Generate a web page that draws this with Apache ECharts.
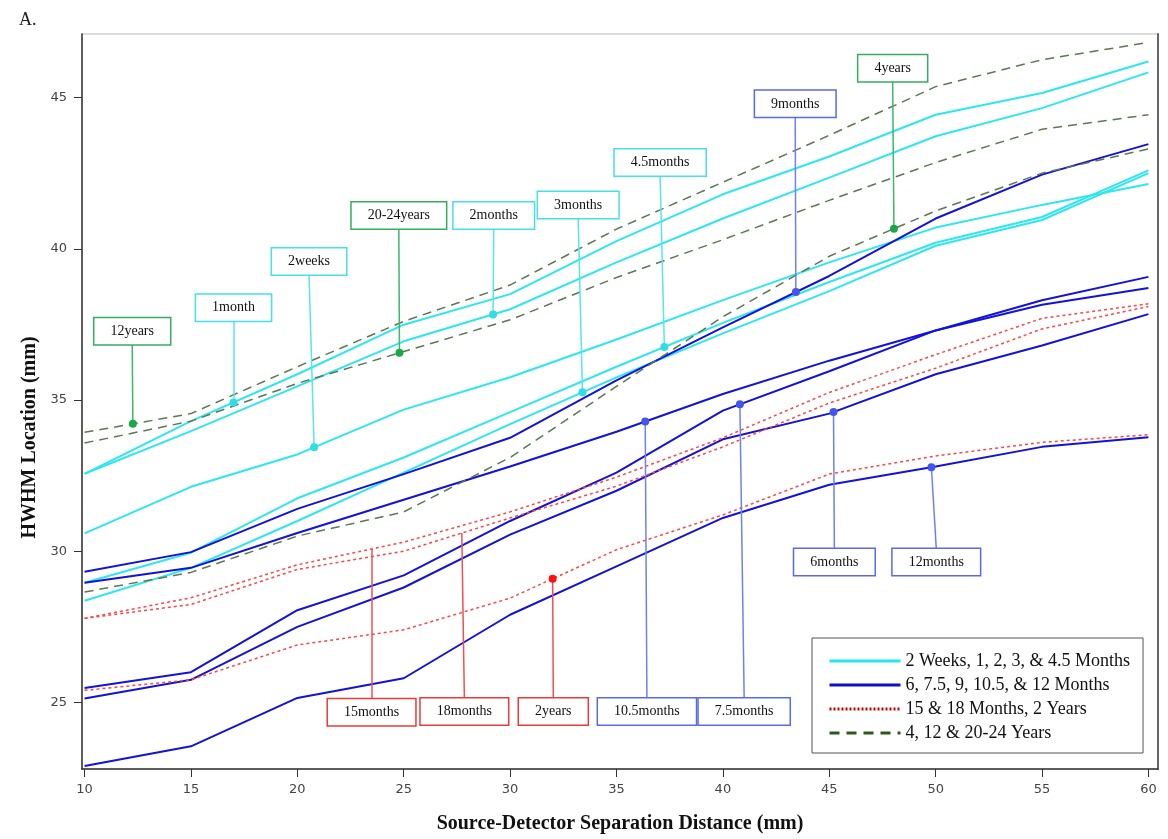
<!DOCTYPE html>
<html>
<head>
<meta charset="utf-8">
<style>
  html, body { margin: 0; padding: 0; background: #fff; }
  #chart { width: 1168px; height: 839px; }
</style>
<script src="https://cdn.jsdelivr.net/npm/echarts@6.0.0/dist/echarts.min.js"></script>
</head>
<body>
<div id="chart"></div>
<script>
// source-detector distances (mm)
const distances = [10, 15, 20, 25, 30, 35, 40, 45, 50, 55, 60];
const xTicks = [10, 15, 20, 25, 30, 35, 40, 45, 50, 55, 60];
const yTicks = [25, 30, 35, 40, 45];

// 2 weeks .. 4.5 months (cyan)
const weeks2 = [30.59, 32.13, 33.2, 34.68, 35.75, 37.0, 38.3, 39.55, 40.7, 41.45, 42.14];
const month1 = [32.56, 34.3, 35.85, 37.49, 38.5, 40.25, 41.8, 43.05, 44.43, 45.15, 46.19];
const months2 = [32.56, 33.97, 35.45, 36.94, 38.0, 39.55, 41.0, 42.35, 43.72, 44.65, 45.83];
const months3 = [28.36, 29.45, 31.0, 32.6, 34.2, 35.75, 37.2, 38.6, 40.1, 40.95, 42.5];
const months4_5 = [28.96, 29.95, 31.75, 33.1, 34.6, 36.1, 37.55, 38.9, 40.2, 41.05, 42.59];

// 6 .. 12 months (blue)
const months6 = [25.13, 25.75, 27.5, 28.8, 30.55, 32.0, 33.7, 34.55, 35.85, 36.8, 37.84];
const months7_5 = [25.48, 26.0, 28.05, 29.2, 31.0, 32.6, 34.65, 35.95, 37.3, 38.3, 39.07];
const months9 = [29.32, 29.97, 31.4, 32.55, 33.75, 35.65, 37.4, 39.1, 41.0, 42.45, 43.46];
const months10_5 = [28.96, 29.45, 30.6, 31.7, 32.8, 33.95, 35.2, 36.3, 37.3, 38.15, 38.7];
const months12 = [22.9, 23.55, 25.15, 25.8, 27.9, 29.5, 31.1, 32.2, 32.8, 33.45, 33.77];

// 15 months .. 2 years (red)
const months15 = [27.78, 28.46, 29.55, 30.3, 31.3, 32.45, 33.75, 35.25, 36.5, 37.7, 38.18];
const months18 = [27.78, 28.24, 29.4, 30.0, 31.1, 32.15, 33.45, 34.9, 36.05, 37.35, 38.09];
const years2 = [25.4, 25.75, 26.9, 27.4, 28.45, 30.05, 31.2, 32.55, 33.15, 33.6, 33.85];

// 4 .. 20-24 years (green)
const years4 = [28.65, 29.3, 30.5, 31.3, 33.1, 35.45, 37.75, 39.75, 41.25, 42.5, 43.3];
const years12 = [33.93, 34.55, 36.1, 37.6, 38.8, 40.65, 42.2, 43.75, 45.36, 46.25, 46.82];
const years20_24 = [33.58, 34.3, 35.55, 36.6, 37.65, 39.05, 40.3, 41.6, 42.85, 43.95, 44.43];

const groupNames = [
  "2 Weeks, 1, 2, 3, & 4.5 Months",
  "6, 7.5, 9, 10.5, & 12 Months",
  "15 & 18 Months, 2 Years",
  "4, 12 & 20-24 Years",
];

const lines = {
  weeks2: [0, weeks2], month1: [0, month1], months2: [0, months2], months3: [0, months3], months4_5: [0, months4_5],
  months6: [1, months6], months7_5: [1, months7_5], months9: [1, months9], months10_5: [1, months10_5], months12: [1, months12],
  months15: [2, months15], months18: [2, months18], years2: [2, years2],
  years4: [3, years4], years12: [3, years12], years20_24: [3, years20_24],
};

// label: series, text, point x, box x, box y, show dot
const annotations = [
  ["years12", "12years", 12.27, 12.24, 37.27, true],
  ["month1", "1month", 17.0, 17.0, 38.05, true],
  ["weeks2", "2weeks", 20.79, 20.55, 39.58, true],
  ["years20_24", "20-24years", 24.8, 24.77, 41.1, true],
  ["months2", "2months", 29.2, 29.23, 41.1, true],
  ["months3", "3months", 33.4, 33.2, 41.45, true],
  ["months4_5", "4.5months", 37.25, 37.05, 42.85, true],
  ["months9", "9months", 43.43, 43.4, 44.79, true],
  ["years4", "4years", 48.04, 47.98, 45.97, true],
  ["months15", "15months", 23.49, 23.49, 24.68, false],
  ["months18", "18months", 27.73, 27.85, 24.7, false],
  ["years2", "2years", 32.0, 32.03, 24.7, true],
  ["months10_5", "10.5months", 36.35, 36.43, 24.7, true],
  ["months7_5", "7.5months", 40.8, 41.0, 24.7, true],
  ["months6", "6months", 45.2, 45.24, 29.64, true],
  ["months12", "12months", 49.8, 50.03, 29.64, true],
];

const styles = [
  { color: "#2ee6f0", width: 2, type: "solid", dot: "#2fdde6", leader: "#55e6ee", box: "#45e0e8" },
  { color: "#1212d8", width: 2, type: "solid", dot: "#4455ee", leader: "#7080f0", box: "#5a6ae4" },
  { color: "#ff4545", width: 1.5, type: [3, 3], dot: "#ff1010", leader: "#f05050", box: "#e83a3a" },
  { color: "#5b7852", width: 1.5, type: [9, 6], dot: "#1aa84a", leader: "#3cb86a", box: "#34ad62" },
];

const legendLines = [
  { color: "#22e6f0", width: 3, type: "solid" },
  { color: "#1010cc", width: 3, type: "solid" },
  { color: "#c00000", width: 3, type: [2, 2] },
  { color: "#2c5a1c", width: 3, type: [10, 7] },
];

const interp = (values, x) => {
  const i = Math.min(Math.floor((x - distances[0]) / 5), distances.length - 2);
  const t = (x - distances[i]) / (distances[i + 1] - distances[i]);
  return values[i] + t * (values[i + 1] - values[i]);
};

const series = Object.keys(lines).map((key) => {
  const [g, values] = lines[key];
  const st = styles[g];
  const notes = annotations.filter((a) => a[0] === key);
  const points = [];
  const leaders = [];
  notes.forEach(([, text, px, bx, by, dot]) => {
    const py = interp(values, px);
    const edge = by > py ? by - 0.45 : by + 0.45;
    leaders.push([{ coord: [px, py] }, { coord: [bx, edge] }]);
    if (dot) {
      points.push({
        coord: [px, py],
        symbol: "circle",
        symbolSize: 8,
        itemStyle: { color: st.dot },
        label: { show: false },
      });
    }
    points.push({
      coord: [bx, by],
      symbol: "rect",
      symbolSize: 1,
      itemStyle: { color: "rgba(0,0,0,0)" },
      label: {
        show: true,
        position: "inside",
        formatter: text,
        backgroundColor: "#fff",
        borderColor: st.box,
        borderWidth: 1.5,
        padding: [6, 16],
        fontFamily: "Liberation Serif",
        fontSize: 14,
        color: "#111",
      },
    });
  });
  return {
    name: groupNames[g],
    type: "line",
    data: distances.map((d, i) => [d, values[i]]),
    symbol: "none",
    lineStyle: { color: st.color, width: st.width, type: st.type },
    itemStyle: { color: st.color },
    z: 2,
    markLine: {
      silent: true,
      symbol: ["none", "none"],
      label: { show: false },
      lineStyle: { color: st.leader, width: 1.5, type: "solid" },
      data: leaders,
    },
    markPoint: {
      silent: true,
      data: points,
    },
  };
});

const chart = echarts.init(document.getElementById("chart"));
chart.setOption({
  animation: false,
  backgroundColor: "#fff",
  title: {
    text: "A.",
    left: 14,
    top: 6,
    textStyle: { fontFamily: "Liberation Serif", fontSize: 18, fontWeight: "normal", color: "#222" },
  },
  grid: {
    left: 82, right: 10, top: 34, bottom: 70,
    show: true, borderColor: "#cfcfcf", borderWidth: 1.5,
  },
  legend: {
    orient: "vertical",
    left: 812,
    top: 638,
    selectedMode: false,
    backgroundColor: "#fff",
    borderColor: "#555",
    borderWidth: 1,
    padding: [14, 13, 11, 16],
    itemWidth: 71,
    itemHeight: 14,
    itemGap: 6,
    textStyle: { fontFamily: "Liberation Serif", fontSize: 18, color: "#111" },
    data: groupNames.map((name, i) => ({
      name,
      lineStyle: legendLines[i],
      itemStyle: { color: "rgba(0,0,0,0)", opacity: 0, borderWidth: 0 },
    })),
  },
  xAxis: {
    type: "value",
    min: 9.88,
    max: 60.45,
    name: "Source-Detector Separation Distance (mm)",
    nameLocation: "middle",
    nameGap: 45,
    nameTextStyle: { fontFamily: "Liberation Serif", fontSize: 20, fontWeight: "bold", color: "#111" },
    axisLine: { show: true, lineStyle: { color: "#333", width: 1.5 } },
    axisTick: { show: true, length: 8, customValues: xTicks, lineStyle: { color: "#333" } },
    axisLabel: { customValues: xTicks, color: "#444", fontSize: 13, margin: 14, fontFamily: "DejaVu Sans" },
    splitLine: { show: false },
  },
  yAxis: [
    {
      type: "value",
      min: 22.8,
      max: 47.1,
      name: "HWHM Location (mm)",
      nameLocation: "middle",
      nameGap: 37,
      nameTextStyle: {
        fontFamily: "Liberation Serif", fontSize: 20, fontWeight: "bold", color: "#111",
        padding: [0, 72, 0, 0],
      },
      axisLine: { show: true, lineStyle: { color: "#333", width: 1.5 } },
      axisTick: { show: true, length: 8, customValues: yTicks, lineStyle: { color: "#333" } },
      axisLabel: { customValues: yTicks, color: "#444", fontSize: 13, margin: 15, fontFamily: "DejaVu Sans" },
      splitLine: { show: false },
    },
    {
      type: "value",
      position: "right",
      min: 22.8,
      max: 47.1,
      axisLine: { show: true, lineStyle: { color: "#666", width: 2 } },
      axisTick: { show: false },
      axisLabel: { show: false },
      splitLine: { show: false },
    },
  ],
  series,
});
</script>
</body>
</html>
